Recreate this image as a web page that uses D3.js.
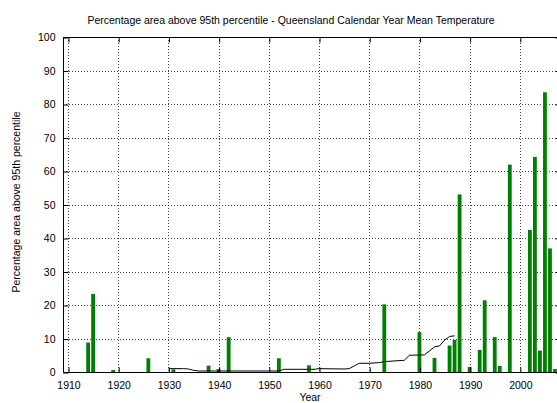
<!DOCTYPE html>
<html>
<head>
<meta charset="utf-8">
<script src="https://cdn.jsdelivr.net/npm/d3@7"></script>
<style>
  html, body { margin: 0; padding: 0; background: #fff; }
  svg { display: block; }
  text { font-family: "Liberation Sans", Arial, sans-serif; font-size: 10.5px; fill: #000; }
</style>
</head>
<body>
<svg id="chart" width="557" height="403"></svg>
<script>
// ---- data ----
const barYears = [1914, 1915, 1919, 1926, 1931, 1938, 1940, 1942, 1952, 1958, 1973, 1980, 1983, 1986, 1987, 1988, 1990, 1992, 1993, 1995, 1996, 1998, 2002, 2003, 2004, 2005, 2006, 2007];
const barValues = [8.8, 23.3, 0.6, 4.1, 0.8, 1.9, 0.9, 10.4, 4.1, 2.0, 20.2, 11.9, 4.2, 7.9, 9.6, 53.0, 1.5, 6.6, 21.4, 10.4, 1.8, 61.9, 42.4, 64.2, 6.4, 83.5, 36.9, 0.9];

const lineYears = [1930, 1933, 1934, 1935, 1936, 1952, 1953, 1959, 1960, 1965, 1966, 1967, 1968, 1970, 1972, 1973, 1977, 1978, 1981, 1982, 1983, 1984, 1985, 1986, 1987];
const lineValues = [1.0, 1.0, 0.9, 0.5, 0.3, 0.3, 0.8, 0.8, 1.0, 0.9, 1.0, 1.8, 2.6, 2.6, 2.8, 3.1, 3.5, 5.0, 5.1, 6.3, 7.5, 7.8, 9.5, 10.6, 10.8];

const xTicks = [1910, 1920, 1930, 1940, 1950, 1960, 1970, 1980, 1990, 2000];
const yTicks = [0, 10, 20, 30, 40, 50, 60, 70, 80, 90, 100];

const titleText = "Percentage area above 95th percentile - Queensland Calendar Year Mean Temperature";
const xLabel = "Year";
const yLabel = "Percentage area above 95th percentile";

// ---- layout ----
const svg = d3.select("#chart");
const mLeft = 63, mRight = 560, mTop = 37, mBottom = 372;

const x = d3.scaleLinear().domain([1909, 2008]).range([mLeft, mRight]);
const y = d3.scaleLinear().domain([0, 100]).range([mBottom, mTop]);

const pxPerYear = x(1) - x(0);
const barW = pxPerYear * 0.76;

// grid
const grid = svg.append("g");
grid.selectAll("line.gx").data(xTicks.filter(t => t > 1909)).enter().append("line")
  .attr("x1", d => Math.round(x(d)) + 0.5).attr("x2", d => Math.round(x(d)) + 0.5)
  .attr("y1", mTop).attr("y2", mBottom)
  .attr("stroke", "#444").attr("stroke-width", 1).attr("stroke-dasharray", "1,2");
grid.selectAll("line.gy").data(yTicks.filter(t => t > 0 && t < 100)).enter().append("line")
  .attr("x1", mLeft).attr("x2", mRight)
  .attr("y1", d => Math.round(y(d)) + 0.5).attr("y2", d => Math.round(y(d)) + 0.5)
  .attr("stroke", "#444").attr("stroke-width", 1).attr("stroke-dasharray", "1,2");

// bars
svg.append("g").selectAll("rect").data(barYears.map((yr, i) => ({yr, v: barValues[i]}))).enter()
  .append("rect")
  .attr("x", d => x(d.yr) - barW / 2)
  .attr("width", barW)
  .attr("y", d => y(d.v))
  .attr("height", d => y(0) - y(d.v))
  .attr("fill", "#008000");

// line
const line = d3.line().x(d => x(d[0])).y(d => y(d[1]));
svg.append("path")
  .datum(lineYears.map((yr, i) => [yr, lineValues[i]]))
  .attr("d", line)
  .attr("fill", "none")
  .attr("stroke", "#000")
  .attr("stroke-width", 1);

// border
svg.append("rect")
  .attr("x", mLeft + 0.5).attr("y", mTop + 0.5)
  .attr("width", mRight - mLeft).attr("height", mBottom - mTop)
  .attr("fill", "none").attr("stroke", "#000").attr("stroke-width", 1);

// axes with inward ticks
const xAxisB = d3.axisBottom(x).tickValues(xTicks).tickFormat(d3.format("d")).tickSizeInner(-5).tickSizeOuter(0).tickPadding(9);
const gxb = svg.append("g").attr("transform", `translate(0.5,${mBottom + 0.5})`).call(xAxisB);
gxb.select(".domain").remove();
gxb.selectAll("text").attr("font-size", 10.5).attr("font-family", "Liberation Sans, Arial, sans-serif");

const xAxisT = d3.axisTop(x).tickValues(xTicks).tickFormat("").tickSizeInner(-5).tickSizeOuter(0);
const gxt = svg.append("g").attr("transform", `translate(0.5,${mTop + 0.5})`).call(xAxisT);
gxt.select(".domain").remove();

const yAxisL = d3.axisLeft(y).tickValues(yTicks).tickFormat(d3.format("d")).tickSizeInner(-5).tickSizeOuter(0).tickPadding(8);
const gyl = svg.append("g").attr("transform", `translate(${mLeft + 0.5},0.5)`).call(yAxisL);
gyl.select(".domain").remove();
gyl.selectAll("text").attr("font-size", 10.5).attr("font-family", "Liberation Sans, Arial, sans-serif");

const yAxisR = d3.axisRight(y).tickValues(yTicks).tickFormat("").tickSizeInner(-5).tickSizeOuter(0);
const gyr = svg.append("g").attr("transform", `translate(${mRight + 0.5},0.5)`).call(yAxisR);
gyr.select(".domain").remove();

// texts
svg.append("text").attr("x", 291).attr("y", 24).attr("text-anchor", "middle").text(titleText);
svg.append("text").attr("x", 310).attr("y", 401).attr("text-anchor", "middle").text(xLabel);
svg.append("text").attr("transform", "translate(20,202) rotate(-90)").attr("text-anchor", "middle").text(yLabel);
</script>
</body>
</html>
